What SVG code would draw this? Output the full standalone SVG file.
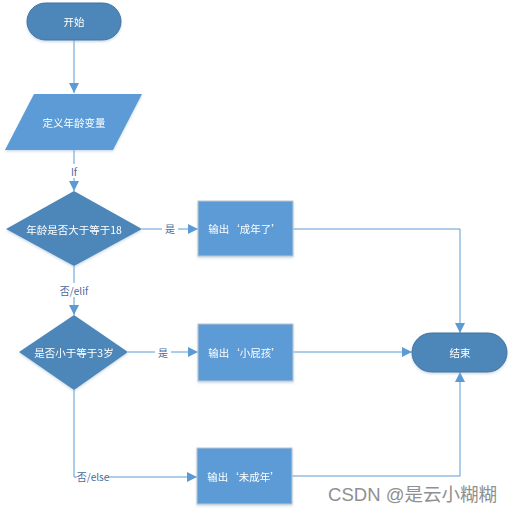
<svg xmlns="http://www.w3.org/2000/svg" width="512" height="513" viewBox="0 0 512 513">
<style>
.term{fill:#4e86b9;stroke:#41719c;stroke-width:1}
.dia{fill:#4e86b9;stroke:none}
.box{fill:#5b9bd5;stroke:#bcc6d0;stroke-width:1}
.t{font-family:"Microsoft YaHei","Noto Sans CJK SC",sans-serif;font-size:10.5px;fill:#ffffff;text-anchor:middle;dominant-baseline:central}
.lbl{font-family:"Microsoft YaHei","Noto Sans CJK SC",sans-serif;font-size:10px;fill:#4a6a9a;text-anchor:middle;dominant-baseline:central}
.c{fill:none;stroke:#5b9bd5;stroke-width:1}
.bg{fill:#ffffff}
</style>
<defs>
<marker id="a" markerWidth="10" markerHeight="10" refX="10" refY="5" orient="auto" markerUnits="userSpaceOnUse">
<path d="M0,0 L10,5 L0,10 Z" fill="#5b9bd5"/>
</marker>
<filter id="sh" x="-10%" y="-10%" width="130%" height="140%">
<feDropShadow dx="0" dy="1.5" stdDeviation="1.2" flood-color="#9ab7d3" flood-opacity="0.5"/>
</filter>
</defs>
<g id="connectors">
<path class="c" d="M74,40 V93" marker-end="url(#a)"/>
<path class="c" d="M74,150 V191" marker-end="url(#a)"/>
<path class="c" d="M142,229 H198" marker-end="url(#a)"/>
<path class="c" d="M293,229 H460 V333" marker-end="url(#a)"/>
<path class="c" d="M74,266 V315" marker-end="url(#a)"/>
<path class="c" d="M128,352 H198" marker-end="url(#a)"/>
<path class="c" d="M293,352 H412" marker-end="url(#a)"/>
<path class="c" d="M74,390 V477 H197" marker-end="url(#a)"/>
<path class="c" d="M292,476 H460 V372" marker-end="url(#a)"/>
<rect class="bg" x="67" y="164" width="14" height="14"/>
<text class="lbl" x="74" y="171">If</text>
<rect class="bg" x="162" y="222" width="16" height="14"/>
<text class="lbl" x="170" y="228">是</text>
<rect class="bg" x="58" y="283" width="32" height="14"/>
<text class="lbl" x="74" y="290">否/elif</text>
<rect class="bg" x="155" y="345" width="16" height="14"/>
<text class="lbl" x="163" y="352">是</text>
<rect class="bg" x="77" y="470" width="31" height="14"/>
<text class="lbl" x="93" y="476">否/else</text>
</g>
<g id="start" filter="url(#sh)">
<rect class="term" x="27" y="3" width="94" height="37" rx="18.5"/>
<text class="t" x="74" y="21">开始</text>
</g>
<g id="define" filter="url(#sh)">
<polygon class="box" points="34,94 142,94 113,150 5,150" style="stroke:none"/>
<text class="t" x="74" y="122">定义年龄变量</text>
</g>
<g id="cond1" filter="url(#sh)">
<polygon class="dia" points="74,191 142,229 74,266 6,229"/>
<text class="t" x="74" y="229">年龄是否大于等于18</text>
</g>
<g id="out1" filter="url(#sh)">
<rect class="box" x="198" y="201" width="95" height="55"/>
<text class="t" x="245" y="228">输出‘成年了’</text>
</g>
<g id="cond2" filter="url(#sh)">
<polygon class="dia" points="74,315 128,352 74,390 19,352"/>
<text class="t" x="74" y="352">是否小于等于3岁</text>
</g>
<g id="out2" filter="url(#sh)">
<rect class="box" x="198" y="324" width="95" height="57"/>
<text class="t" x="245" y="352">输出‘小屁孩’</text>
</g>
<g id="out3" filter="url(#sh)">
<rect class="box" x="197" y="448" width="95" height="56"/>
<text class="t" x="244" y="476">输出‘未成年’</text>
</g>
<g id="end" filter="url(#sh)">
<rect class="term" x="412" y="333" width="95" height="39" rx="19.5"/>
<text class="t" x="460" y="352">结束</text>
</g>
<text x="412.5" y="494" style="font-family:'Liberation Sans','Noto Sans CJK SC',sans-serif;font-size:18.5px;fill:#8f8f8f;text-anchor:middle;dominant-baseline:central">CSDN @是云小糊糊</text>
</svg>
